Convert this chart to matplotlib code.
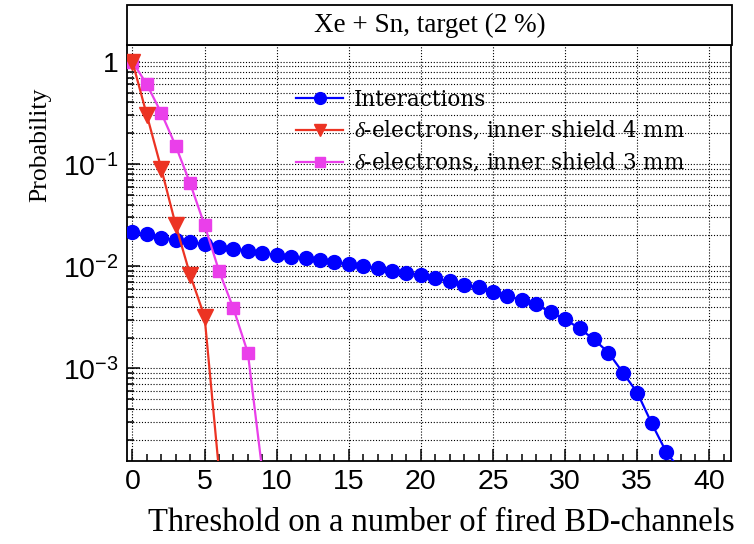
import matplotlib
matplotlib.use("Agg")
import matplotlib.pyplot as plt
from matplotlib.patches import Rectangle
from matplotlib.ticker import FixedLocator, MultipleLocator, NullFormatter
import numpy as np

plt.rcParams['mathtext.fontset'] = 'custom'
plt.rcParams['mathtext.rm'] = 'Liberation Sans'
plt.rcParams['mathtext.it'] = 'Liberation Serif:italic'

# data
x_inter = list(range(0, 39))
p_inter = [0.0214, 0.0205, 0.0190, 0.0180, 0.0172, 0.0164, 0.0155, 0.0149, 0.0142,
           0.0135, 0.0129, 0.0124, 0.0119, 0.0114, 0.0110, 0.0105, 0.0100, 0.0095,
           0.0090, 0.0086, 0.0082, 0.0076, 0.0071, 0.0066, 0.0062, 0.0056, 0.0051,
           0.00466, 0.00423, 0.00353, 0.00302, 0.00246, 0.00192, 0.00143, 0.00091,
           0.00058, 0.00029, 0.000153, 0.0001]

x_d4 = [0, 1, 2, 3, 4, 5, 6]
p_d4 = [1.0, 0.30, 0.090, 0.0252, 0.0082, 0.0032, 0.0001]

x_d3 = [0, 1, 2, 3, 4, 5, 6, 7, 8, 9]
p_d3 = [1.0, 0.60, 0.315, 0.150, 0.0646, 0.0252, 0.0090, 0.00386, 0.00142, 0.0001]

labels = ["Interactions",
          r"$\delta$-electrons, inner shield 4 mm",
          r"$\delta$-electrons, inner shield 3 mm"]
title = "Xe + Sn, target (2 %)"
x_title = "Threshold on a number of fired BD-channels"
y_title = "Probability"

W, H = 754, 544
fig = plt.figure(figsize=(W / 100, H / 100), dpi=100)

# axes box in pixels (left, right, top, bottom)
L, R, T, B = 126.7, 731.0, 45.0, 460.7
ax = fig.add_axes([L / W, 1 - B / H, (R - L) / W, (B - T) / H])

ax.plot(x_inter, p_inter, color="#0000ff", lw=1.6, marker="o", ms=10,
        mec="#0000ff", label=labels[0], zorder=3)
ax.plot(x_d3, p_d3, color="#ea3fea", lw=1.6, marker="s", ms=8.5,
        mec="#ea3fea", label=labels[2], zorder=4)
ax.plot(x_d4, p_d4, color="#ec3323", lw=1.6, marker="v", ms=11,
        mec="#ec3323", label=labels[1], zorder=5)

ax.set_yscale("log")
ax.set_xlim(-0.4, 41.5)
ax.set_ylim(1.25e-4, 1.46)

# ticks, ROOT style (inside, only bottom/left)
ax.xaxis.set_major_locator(MultipleLocator(5))
ax.xaxis.set_minor_locator(MultipleLocator(1))
ax.yaxis.set_major_locator(FixedLocator([1e-3, 1e-2, 1e-1, 1]))
minors = [m * 10.0 ** e for e in range(-4, 1) for m in range(2, 10)]
ax.yaxis.set_minor_locator(FixedLocator(minors))
ax.yaxis.set_minor_formatter(NullFormatter())
ax.set_yticklabels([r"$10^{-3}$", r"$10^{-2}$", r"$10^{-1}$", "1"])
ax.tick_params(which="both", direction="in", top=False, right=False, width=1.1)
ax.tick_params(which="major", length=9, labelsize=20.5, pad=6)
ax.tick_params(which="minor", length=5)
for lab in ax.get_xticklabels() + ax.get_yticklabels():
    lab.set_family("Liberation Sans")

for sp in ax.spines.values():
    sp.set_linewidth(1.3)

# dotted grid on major x, major+minor y
ax.grid(True, which="major", axis="x", color="black", lw=0.8, ls=(0, (1, 1.6)))
ax.grid(True, which="both", axis="y", color="black", lw=0.8, ls=(0, (1, 1.6)))
ax.set_axisbelow(True)

# legend
handles, labs = ax.get_legend_handles_labels()
order = [0, 2, 1]
leg = ax.legend([handles[i] for i in order], [labs[i] for i in order],
                loc="upper left", bbox_to_anchor=((296 - L) / (R - L), 1 - (89 - T) / (B - T)),
                frameon=False, prop={"family": "DejaVu Serif", "size": 15.5},
                handlelength=2.2, handletextpad=0.5, labelspacing=0.4,
                borderpad=0, borderaxespad=0, markerscale=0.85)

# title box above the frame
fig.add_artist(Rectangle((127.3 / W, 1 - 45 / H), (731.7 - 127.3) / W, 40 / H,
                         transform=fig.transFigure, facecolor="white",
                         edgecolor="black", lw=1.3))
fig.text((127.3 + 731.7) / 2 / W, 1 - 25 / H, title, ha="center", va="center",
         family="Liberation Serif", fontsize=19.5)

fig.text(441.5 / W, 1 - 523 / H, x_title, ha="center", va="center",
         family="Liberation Serif", fontsize=23.5)
fig.text(40 / W, 1 - 145 / H, y_title, ha="center", va="center", rotation=90,
         family="Liberation Serif", fontsize=18.5)

fig.savefig("out.png", dpi=100)
